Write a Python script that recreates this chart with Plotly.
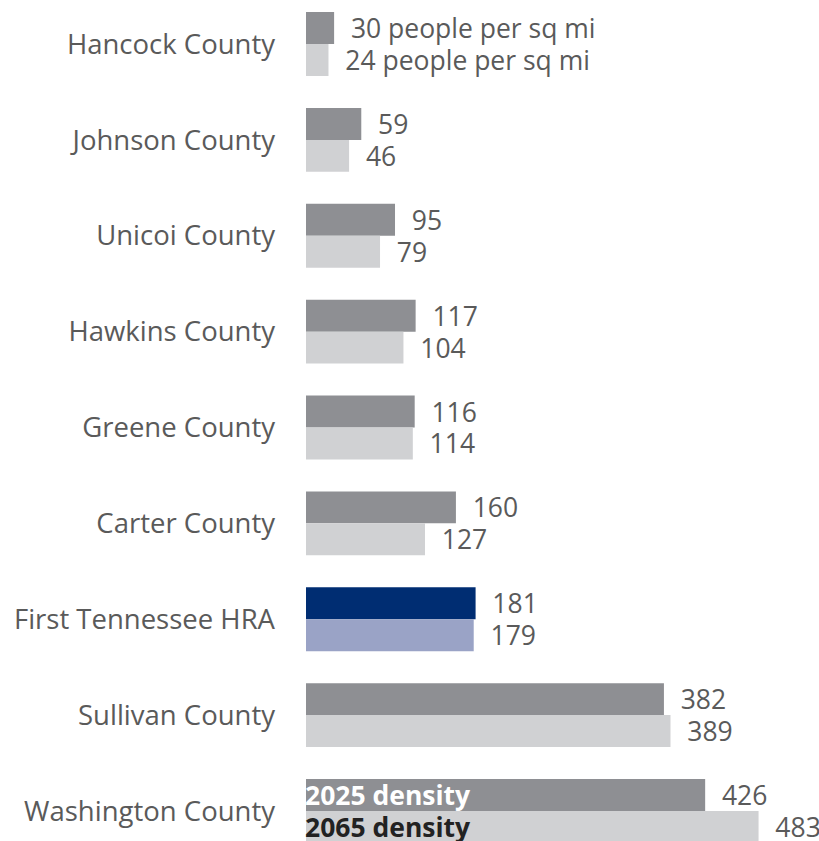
import plotly.graph_objects as go

counties = [
    "Hancock County", "Johnson County", "Unicoi County", "Hawkins County",
    "Greene County", "Carter County", "First Tennessee HRA",
    "Sullivan County", "Washington County",
]
density_2025 = [30, 59, 95, 117, 116, 160, 181, 382, 426]
density_2065 = [24, 46, 79, 104, 114, 127, 179, 389, 483]

grey_dark, grey_light = "#8e8f93", "#d0d1d3"
navy_dark, navy_light = "#002d72", "#9aa3c6"
hra = "First Tennessee HRA"

def label(v, i):
    return f"  {v} people per sq mi" if i == 0 else f"  {v}"

font = "Open Sans"
txt_color = "#5a5a5a"
val_size = 26.5

fig = go.Figure()
fig.add_bar(
    y=counties, x=density_2025, orientation="h", name="2025 density",
    marker=dict(color=[navy_dark if c == hra else grey_dark for c in counties], line_width=0),
    text=[label(v, i) for i, v in enumerate(density_2025)],
    textposition="outside", cliponaxis=False, constraintext="none",
    textfont=dict(family=font, size=val_size, color=txt_color),
)
fig.add_bar(
    y=counties, x=density_2065, orientation="h", name="2065 density",
    marker=dict(color=[navy_light if c == hra else grey_light for c in counties], line_width=0),
    text=[label(v, i) for i, v in enumerate(density_2065)],
    textposition="outside", cliponaxis=False, constraintext="none",
    textfont=dict(family=font, size=val_size, color=txt_color),
)

# series names written inside the last pair of bars
fig.add_annotation(x=0, y=counties[-1], yshift=16, xanchor="left", yanchor="middle",
                   xshift=-3, text="<b>2025 density</b>", showarrow=False,
                   font=dict(family=font, size=val_size, color="white"))
fig.add_annotation(x=0, y=counties[-1], yshift=-16, xanchor="left", yanchor="middle",
                   xshift=-3, text="<b>2065 density</b>", showarrow=False,
                   font=dict(family=font, size=val_size, color="#222222"))

fig.update_layout(
    width=819, height=841,
    margin=dict(l=306, r=0, t=0, b=0),
    paper_bgcolor="white", plot_bgcolor="white",
    barmode="group", bargap=0.333, bargroupgap=0,
    showlegend=False,
    xaxis=dict(range=[0, 547.5], visible=False),
    yaxis=dict(
        categoryorder="array", categoryarray=counties,
        range=[8.313, -0.459],
        showgrid=False, zeroline=False, showline=False, ticks="",
        ticklabelstandoff=30,
        tickfont=dict(family=font, size=27.5, color=txt_color),
    ),
)

fig.write_html("out.html")
